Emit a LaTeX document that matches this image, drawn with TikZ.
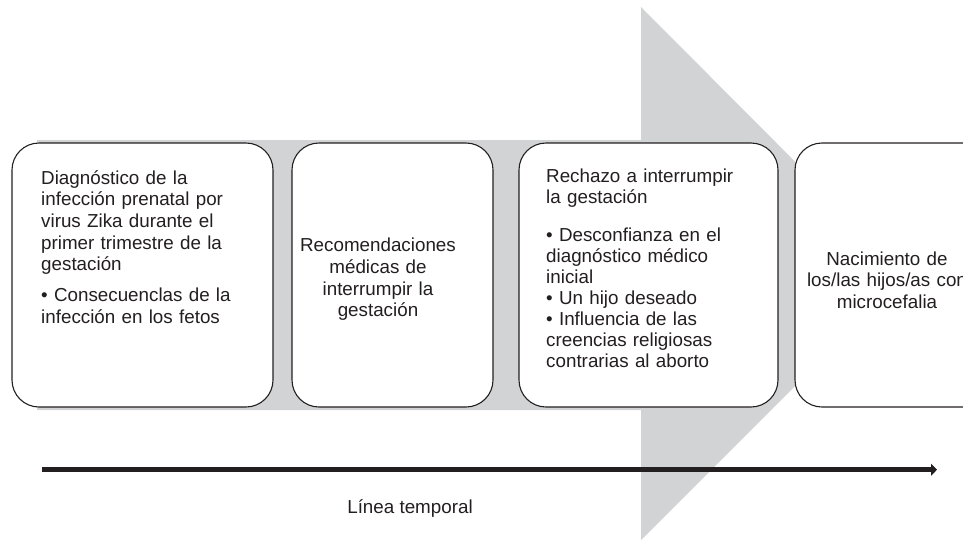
\documentclass[tikz,border=0pt]{standalone}
\usepackage{fontspec}
\setmainfont{Liberation Sans}
\usetikzlibrary{arrows.meta}
\definecolor{bandgrey}{RGB}{209,211,212}
\definecolor{inkblack}{RGB}{35,31,32}
\begin{document}
\begin{tikzpicture}[x=1pt,y=-1pt,
  stagebox/.style={draw=inkblack, line width=1.1pt, fill=white, rounded corners=27pt,
    minimum height=264pt, inner sep=0pt},
  bodytext/.style={inner sep=0pt, text=inkblack},
  timearrow/.style={draw=inkblack, line width=5.5pt, -{Triangle[length=6pt,width=12pt]}}
]
\useasboundingbox (0,0) rectangle (963,541);
\clip (0,0) rectangle (963,541);
% grey arrow
\fill[bandgrey] (37,140) -- (641,140) -- (641,7) -- (907,274) -- (641,540) -- (641,410) -- (37,410) -- cycle;
% boxes
\node[stagebox, minimum width=261pt] (b1) at (142.5,275) {};
\node[stagebox, minimum width=201pt] (b2) at (392.5,275) {};
\node[stagebox, minimum width=259pt] (b3) at (648.5,275) {};
\node[stagebox, minimum width=201pt] (b4) at (895.5,275) {};
% texts
\node[bodytext, anchor=base west, text width=225pt, align=left,
  font=\fontsize{18.8}{21.6}\selectfont] (t1) at (41,184.3)
  {Diagnóstico de la\\ infección prenatal por\\ virus Zika durante el\\ primer trimestre de la\\ gestación\\[9.4pt] • Consecuenclas de la\\ infección en los fetos};
\node[bodytext, anchor=base, text width=190pt, align=center,
  font=\fontsize{18.8}{21.7}\selectfont] (t2) at (378,251.7)
  {Recomendaciones\\ médicas de\\ interrumpir la\\ gestación};
\node[bodytext, anchor=base west, text width=225pt, align=left,
  font=\fontsize{18.8}{21}\selectfont] (t3) at (546,182.7)
  {Rechazo a interrumpir\\[-0.4pt] la gestación\\[17.4pt] • Desconfianza en el\\ diagnóstico médico\\ inicial\\ • Un hijo deseado\\ • Influencia de las\\ creencias religiosas\\ contrarias al aborto};
\node[bodytext, anchor=base, text width=190pt, align=center,
  font=\fontsize{18.8}{21.5}\selectfont] (t4) at (887,265)
  {Nacimiento de\\ los/las hijos/as con\\ microcefalia};
% timeline
\coordinate (tl0) at (42,469.7);
\coordinate (tl1) at (937,469.7);
\draw[timearrow] (tl0) -- (tl1);
\node[bodytext, anchor=base, font=\fontsize{18.8}{21.6}\selectfont] (lbl) at (410,513.3) {Línea temporal};
\end{tikzpicture}
\end{document}
